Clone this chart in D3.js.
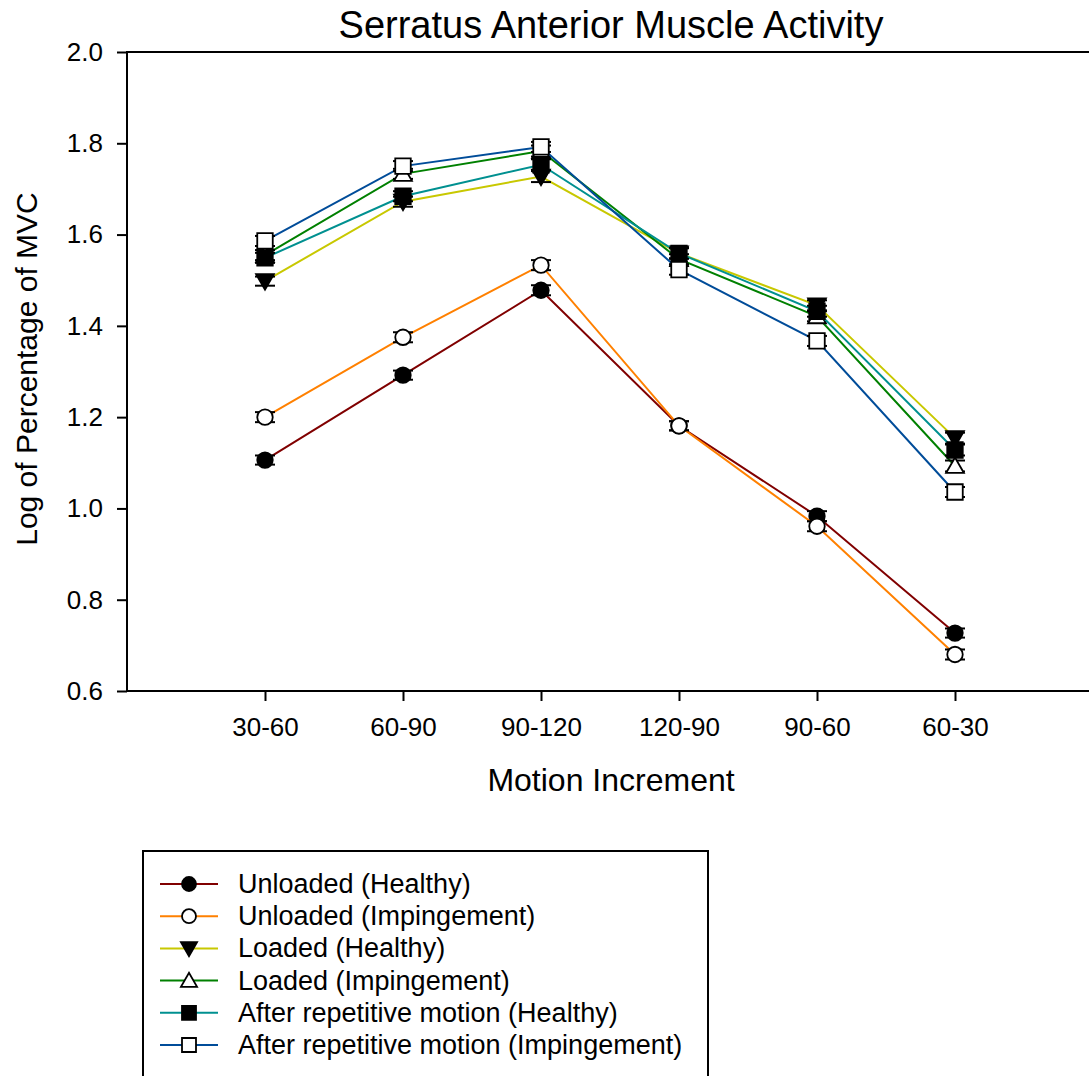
<!DOCTYPE html>
<html>
<head>
<meta charset="utf-8">
<script src="https://cdn.jsdelivr.net/npm/d3@7"></script>
<style>
  html, body { margin: 0; padding: 0; background: #fff; }
  svg { display: block; font-family: "Liberation Sans", Arial, sans-serif; }
</style>
</head>
<body>
<svg id="chart" width="1089" height="1076"></svg>
<script>
// Motion increments along the x axis
const categories = ["30-60", "60-90", "90-120", "120-90", "90-60", "60-30"];
const yTicks = [0.6, 0.8, 1.0, 1.2, 1.4, 1.6, 1.8, 2.0];

// Mean log %MVC per increment
const unloadedHealthy     = [1.106, 1.292, 1.478, 1.181, 0.983, 0.727];
const unloadedImpingement = [1.200, 1.375, 1.533, 1.181, 0.961, 0.680];
const loadedHealthy       = [1.498, 1.672, 1.727, 1.559, 1.445, 1.154];
const loadedImpingement   = [1.555, 1.733, 1.783, 1.546, 1.421, 1.093];
const repHealthy          = [1.549, 1.684, 1.753, 1.559, 1.432, 1.128];
const repImpingement      = [1.586, 1.750, 1.792, 1.523, 1.367, 1.036];

// Standard errors
const unloadedHealthyErr     = [0.010, 0.010, 0.011, 0.010, 0.011, 0.010];
const unloadedImpingementErr = [0.011, 0.011, 0.011, 0.010, 0.011, 0.011];
const loadedHealthyErr       = [0.010, 0.011, 0.012, 0.011, 0.011, 0.012];
const loadedImpingementErr   = [0.011, 0.011, 0.012, 0.011, 0.011, 0.012];
const repHealthyErr          = [0.011, 0.011, 0.012, 0.012, 0.012, 0.012];
const repImpingementErr      = [0.011, 0.011, 0.011, 0.011, 0.011, 0.011];

const seriesNames = [
  "Unloaded (Healthy)",
  "Unloaded (Impingement)",
  "Loaded (Healthy)",
  "Loaded (Impingement)",
  "After repetitive motion (Healthy)",
  "After repetitive motion (Impingement)"
];
const seriesValues = [unloadedHealthy, unloadedImpingement, loadedHealthy,
                      loadedImpingement, repHealthy, repImpingement];
const seriesErrors = [unloadedHealthyErr, unloadedImpingementErr, loadedHealthyErr,
                      loadedImpingementErr, repHealthyErr, repImpingementErr];
const seriesColors = ["#800000", "#ff8000", "#c8c800", "#008000", "#009090", "#004c99"];
const seriesShapes = ["circle", "circle", "triangleDown", "triangleUp", "square", "square"];
const seriesFilled = [true, false, true, false, true, false];

const svg = d3.select("#chart");
const plot = { left: 127, right: 1093, top: 52, bottom: 691 };

const x = d3.scaleLinear().domain([0, categories.length + 1]).range([plot.left, plot.right]);
const y = d3.scaleLinear().domain([0.6, 2.0]).range([plot.bottom, plot.top]);

// Title
svg.append("text")
  .attr("x", 611).attr("y", 38)
  .attr("text-anchor", "middle")
  .attr("font-size", 38)
  .text("Serratus Anterior Muscle Activity");

// Plot frame
svg.append("rect")
  .attr("x", plot.left).attr("y", plot.top)
  .attr("width", plot.right - plot.left).attr("height", plot.bottom - plot.top)
  .attr("fill", "none").attr("stroke", "#000").attr("stroke-width", 2);

// Y axis
const yAxis = svg.append("g")
  .attr("transform", `translate(${plot.left},0)`)
  .call(d3.axisLeft(y).tickValues(yTicks).tickFormat(d3.format(".1f")).tickSize(10).tickPadding(14));
yAxis.select(".domain").remove();
yAxis.selectAll(".tick line").attr("stroke-width", 2);
yAxis.selectAll(".tick text").attr("font-size", 26).attr("font-family", "Liberation Sans, Arial, sans-serif").attr("fill", "#000");

// X axis
const xAxis = svg.append("g")
  .attr("transform", `translate(0,${plot.bottom})`)
  .call(d3.axisBottom(x).tickValues(d3.range(1, categories.length + 1))
    .tickFormat(i => categories[i - 1]).tickSize(10).tickPadding(17));
xAxis.select(".domain").remove();
xAxis.selectAll(".tick line").attr("stroke-width", 2);
xAxis.selectAll(".tick text").attr("font-size", 26).attr("font-family", "Liberation Sans, Arial, sans-serif").attr("fill", "#000");

// Axis titles
svg.append("text")
  .attr("x", 611).attr("y", 791)
  .attr("text-anchor", "middle")
  .attr("font-size", 32)
  .text("Motion Increment");

svg.append("text")
  .attr("transform", "translate(37,369) rotate(-90)")
  .attr("text-anchor", "middle")
  .attr("font-size", 30)
  .text("Log of Percentage of MVC");

// Marker symbol generators
function markerPath(shape, s) {
  const h = s / 2;
  if (shape === "square") return `M${-h},${-h}H${h}V${h}H${-h}Z`;
  if (shape === "triangleDown") return `M${-h * 1.15},${-h * 0.9}L${h * 1.15},${-h * 0.9}L0,${h * 1.1}Z`;
  if (shape === "triangleUp") return `M${-h * 1.15},${h * 0.9}L${h * 1.15},${h * 0.9}L0,${-h * 1.1}Z`;
  return d3.arc()({ innerRadius: 0, outerRadius: h, startAngle: 0, endAngle: 2 * Math.PI });
}

const line = d3.line().x((d, i) => x(i + 1)).y(d => y(d));

seriesValues.forEach((vals, s) => {
  const g = svg.append("g");
  g.append("path")
    .attr("d", line(vals))
    .attr("fill", "none")
    .attr("stroke", seriesColors[s])
    .attr("stroke-width", 2);

  // Error bars with caps
  vals.forEach((v, i) => {
    const e = seriesErrors[s][i];
    const cx = x(i + 1);
    g.append("line")
      .attr("x1", cx).attr("x2", cx).attr("y1", y(v - e)).attr("y2", y(v + e))
      .attr("stroke", "#000").attr("stroke-width", 2);
    [v - e, v + e].forEach(b => {
      g.append("line")
        .attr("x1", cx - 10).attr("x2", cx + 10).attr("y1", y(b)).attr("y2", y(b))
        .attr("stroke", "#000").attr("stroke-width", 2);
    });
  });

  g.selectAll(".pt").data(vals).join("path")
    .attr("transform", (d, i) => `translate(${x(i + 1)},${y(d)})`)
    .attr("d", markerPath(seriesShapes[s], 15.5))
    .attr("fill", seriesFilled[s] ? "#000" : "#fff")
    .attr("stroke", "#000")
    .attr("stroke-width", 1.8);
});

// Legend
const legend = svg.append("g");
legend.append("rect")
  .attr("x", 143).attr("y", 851).attr("width", 565).attr("height", 240)
  .attr("fill", "#fff").attr("stroke", "#000").attr("stroke-width", 2);

const rowY = d3.scaleLinear().domain([0, 5]).range([884, 1045]);
seriesNames.forEach((name, s) => {
  const ry = rowY(s);
  legend.append("line")
    .attr("x1", 160).attr("x2", 218).attr("y1", ry).attr("y2", ry)
    .attr("stroke", seriesColors[s]).attr("stroke-width", 2);
  legend.append("path")
    .attr("transform", `translate(189,${ry})`)
    .attr("d", markerPath(seriesShapes[s], 14))
    .attr("fill", seriesFilled[s] ? "#000" : "#fff")
    .attr("stroke", "#000").attr("stroke-width", 1.8);
  legend.append("text")
    .attr("x", 238).attr("y", ry + 9)
    .attr("font-size", 27)
    .text(name);
});
</script>
</body>
</html>
